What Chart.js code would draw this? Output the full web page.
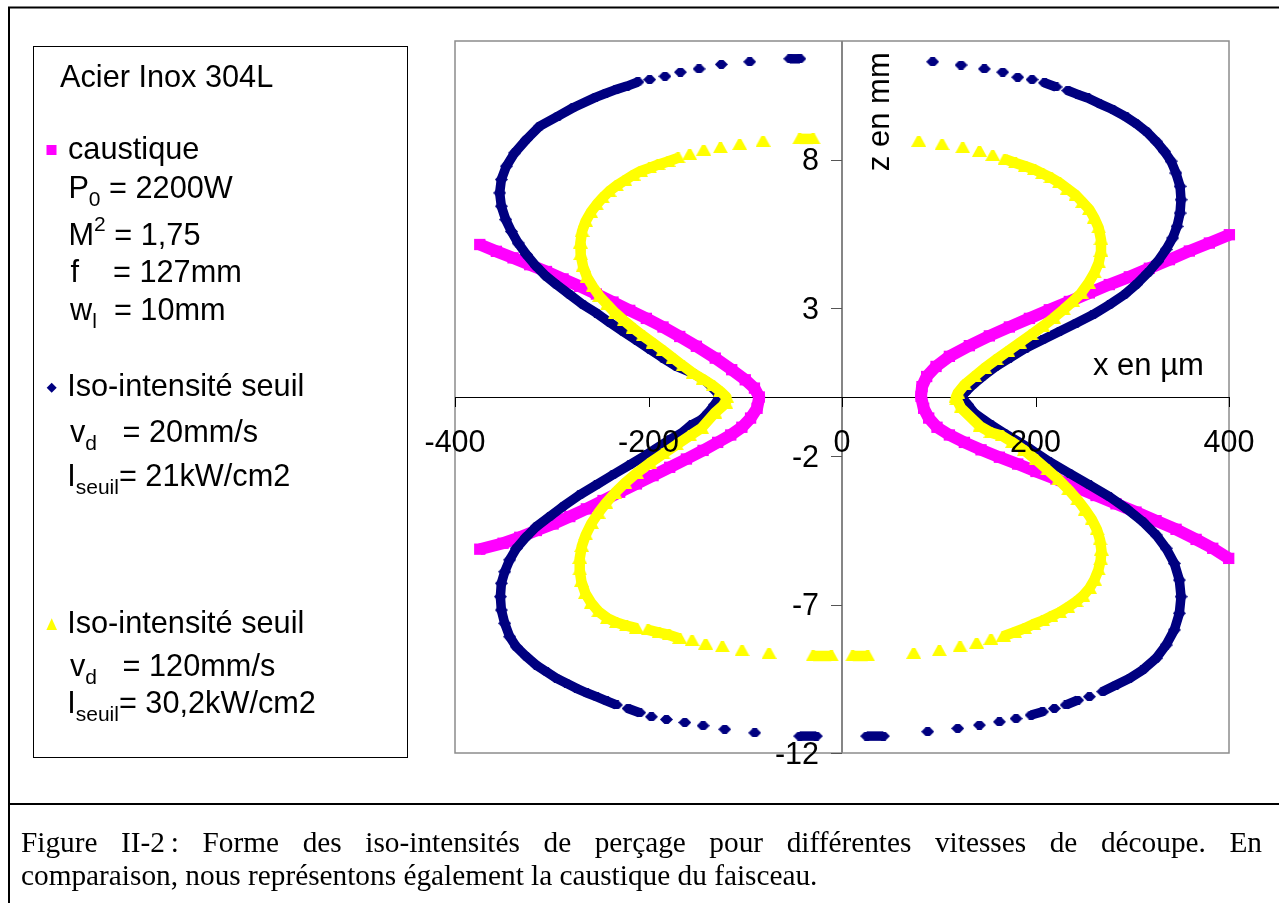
<!DOCTYPE html>
<html lang="fr">
<head>
<meta charset="utf-8">
<title>Figure II-2 - iso-intensités de perçage</title>
<script src="https://cdn.jsdelivr.net/npm/chart.js@4.4.1/dist/chart.umd.min.js"></script>
<style>
    html, body { margin: 0; padding: 0; background: #fff; }
    #page { position: relative; width: 1279px; height: 903px; overflow: hidden; }
    #graphe { position: absolute; left: 0; top: 0; }
    .leg {
        position: absolute;
        font-family: "Liberation Sans", Arial, sans-serif;
        font-size: 30.7px;
        line-height: 30px;
        white-space: pre;
        color: #000;
    }
    .leg sub, .leg sup { font-size: 21px; line-height: 0; vertical-align: baseline; position: relative; }
    .leg sub { top: 8px; }
    .leg sup { top: -14px; }
    .legende {
        position: absolute;
        left: 21px;
        width: 1241px;
        font-family: "Liberation Serif", "Times New Roman", serif;
        font-size: 29.3px;
        line-height: 30px;
        color: #000;
        text-align: justify;
        text-align-last: justify;
    }
    .legende.fin { text-align: left; text-align-last: left; }
</style>
</head>
<body>
<div id="page">
    <canvas id="graphe" width="1279" height="903"></canvas>

    <!-- légende de gauche -->
    <div class="leg" style="left:60px;top:62px">Acier Inox 304L</div>
    <div class="leg" style="left:68px;top:134.4px">caustique</div>
    <div class="leg" style="left:68.4px;top:172.7px">P<sub>0</sub> = 2200W</div>
    <div class="leg" style="left:68.5px;top:220.4px">M<sup>2</sup> = 1,75</div>
    <div class="leg" style="left:70.4px;top:257.1px">f    = 127mm</div>
    <div class="leg" style="left:70px;top:295.4px">w<sub>l</sub>  = 10mm</div>
    <div class="leg" style="left:67.2px;top:371.1px">Iso-intensité seuil</div>
    <div class="leg" style="left:70px;top:417.1px">v<sub>d</sub>   = 20mm/s</div>
    <div class="leg" style="left:67.2px;top:461.1px">I<sub>seuil</sub>= 21kW/cm2</div>
    <div class="leg" style="left:67.2px;top:607.7px">Iso-intensité seuil</div>
    <div class="leg" style="left:70px;top:651.1px">v<sub>d</sub>   = 120mm/s</div>
    <div class="leg" style="left:67.2px;top:687.7px">I<sub>seuil</sub>= 30,2kW/cm2</div>

    <!-- légende de la figure -->
    <div class="legende" style="top:827px">Figure II-2&#8239;: Forme des iso-intensités de perçage pour différentes vitesses de découpe. En</div>
    <div class="legende fin" style="top:860px">comparaison, nous représentons également la caustique du faisceau.</div>
</div>

<script>
// Graduations des axes
const xTicks = [-400, -200, 0, 200, 400];
const zTicks = [-12, -7, -2, 3, 8];

// Caustique du faisceau (x en µm, z en mm), branche gauche puis droite
const caustiqueGaucheX = [-374.4, -357.2, -340.0, -322.8, -305.5, -288.3, -271.1, -253.9, -236.7, -219.4,
    -202.2, -185.0, -167.7, -150.5, -131.0, -114.0, -100.0, -90.5, -85.5, -87.8,
    -94.5, -103.5, -115.0, -128.5, -143.6, -160.8, -178.1, -195.3, -212.5, -229.8,
    -247.0, -264.2, -281.4, -298.6, -315.9, -333.1, -350.3, -374.4];
const caustiqueGaucheZ = [5.14, 4.91, 4.69, 4.46, 4.23, 3.98, 3.73, 3.47, 3.20, 2.92,
    2.65, 2.36, 2.04, 1.71, 1.31, 0.92, 0.58, 0.30, 0.00, -0.38,
    -0.71, -1.02, -1.28, -1.53, -1.80, -2.09, -2.37, -2.65, -2.93, -3.21,
    -3.49, -3.77, -4.03, -4.28, -4.50, -4.73, -4.93, -5.13];
const caustiqueDroiteX = [400.4, 379.7, 359.0, 338.4, 317.7, 297.0, 276.3, 255.7, 235.0, 214.3,
    193.7, 173.0, 152.3, 131.6, 111.0, 97.2, 87.5, 82.7, 81.7, 84.4,
    89.6, 98.2, 111.0, 126.5, 143.7, 162.7, 181.6, 200.5, 221.2, 241.9,
    262.6, 283.2, 303.9, 324.6, 345.3, 366.0, 383.2, 399.7];
const caustiqueDroiteZ = [5.47, 5.19, 4.92, 4.63, 4.34, 4.05, 3.79, 3.51, 3.22, 2.94,
    2.65, 2.36, 2.06, 1.73, 1.37, 1.03, 0.69, 0.35, 0.02, -0.38,
    -0.71, -1.02, -1.28, -1.53, -1.78, -2.03, -2.26, -2.51, -2.77, -3.04,
    -3.32, -3.60, -3.88, -4.17, -4.46, -4.80, -5.10, -5.44];

// Iso-intensité seuil, vd = 20 mm/s
const iso20GaucheX = [-43.5, -54.0, -95.4, -124.7, -147.8, -167.0, -183.0, -198.8, -210.9, -222.2, -233.9, -244.6, -254.9,
    -278.0, -293.5, -312.4, -326.2, -338.3, -346.9, -352.1, -353.8, -352.1, -347.6,
    -341.7, -334.8, -326.2, -315.9, -305.5, -295.2, -281.4, -267.6, -253.8, -240.0,
    -226.3, -212.5, -198.7, -184.9, -171.2, -154.0, -140.2, -131.6, -126.4,
    -131.6, -138.5, -145.4, -155.7, -166.0, -178.1, -202.2, -219.4, -236.7, -253.9,
    -271.1, -288.3, -302.1, -315.9, -326.2, -336.6, -343.5, -348.6, -352.1, -353.1,
    -352.1, -348.6, -343.5, -336.6, -326.2, -315.9, -305.5, -295.2, -284.8, -274.5,
    -264.2, -253.9, -243.5, -233.2, -221.1, -209.1, -197.0, -181.5, -162.5, -143.6,
    -121.2, -90.2, -43.7, -26.5];
const iso20GaucheZ = [11.40, 11.40, 11.30, 11.21, 11.06, 10.95, 10.81, 10.70, 10.62, 10.48, 10.36, 10.23, 10.10,
    9.75, 9.47, 9.13, 8.68, 8.23, 7.78, 7.33, 6.88, 6.43, 5.98,
    5.58, 5.19, 4.80, 4.40, 4.06, 3.79, 3.45, 3.11, 2.83, 2.51,
    2.21, 1.91, 1.61, 1.31, 1.03, 0.80, 0.52, 0.24, 0.02,
    -0.26, -0.54, -0.77, -0.94, -1.22, -1.44, -1.95, -2.29, -2.62, -2.96,
    -3.30, -3.69, -4.03, -4.37, -4.71, -5.10, -5.49, -5.89, -6.28, -6.73,
    -7.18, -7.63, -8.08, -8.42, -8.75, -9.04, -9.26, -9.48, -9.65, -9.82,
    -9.97, -10.10, -10.24, -10.38, -10.50, -10.64, -10.78, -10.87, -10.97, -11.08,
    -11.20, -11.32, -11.43, -11.43];
const iso20DroiteX = [93.7, 123.0, 147.1, 166.1, 181.6, 196.4, 209.2, 221.2, 233.3, 243.6, 254.0,
    266.0, 279.8, 293.6, 303.9, 314.2, 324.6, 333.2, 340.1, 345.2, 349.4,
    350.4, 349.4, 346.3, 341.8, 334.9, 326.3, 316.0, 303.9, 291.9, 276.3,
    259.1, 241.9, 224.7, 207.4, 190.2, 173.0, 159.2, 145.4, 135.1, 126.5, 123.7,
    129.9, 136.8, 154.0, 167.8, 193.7, 214.3, 235.0, 255.7, 276.3, 293.6,
    310.8, 324.6, 335.0, 343.5, 348.7, 350.4, 348.7, 343.5, 335.0, 324.6,
    310.8, 297.0, 283.2, 269.5, 255.7, 243.6, 231.6, 219.5, 207.4, 195.4,
    179.9, 162.7, 142.0, 119.6, 88.6, 42.8, 25.5];
const iso20DroiteZ = [11.30, 11.19, 11.06, 10.95, 10.78, 10.70, 10.59, 10.45, 10.33, 10.20, 10.08,
    9.89, 9.69, 9.44, 9.22, 8.96, 8.62, 8.28, 7.95, 7.55, 7.10,
    6.65, 6.20, 5.75, 5.36, 4.97, 4.57, 4.18, 3.79, 3.45, 3.11,
    2.77, 2.49, 2.21, 1.93, 1.65, 1.31, 1.03, 0.69, 0.41, 0.13, 0.00,
    -0.26, -0.54, -0.94, -1.22, -1.73, -2.18, -2.57, -2.96, -3.36, -3.75,
    -4.20, -4.65, -5.10, -5.61, -6.17, -6.73, -7.29, -7.85, -8.36, -8.81,
    -9.20, -9.49, -9.71, -9.93, -10.10, -10.22, -10.38, -10.50, -10.61, -10.72,
    -10.84, -10.95, -11.06, -11.17, -11.28, -11.43, -11.43];

// Iso-intensité seuil, vd = 120 mm/s
const iso120GaucheX = [-29.9, -43.7, -81.6, -105.7, -125.7, -142.9, -157.4, -169.5, -179.8, -190.1,
    -198.8, -208.3, -216.0, -224.6, -233.2, -240.8, -247.7, -253.9, -259.8, -265.0,
    -268.7, -270.4, -270.1, -267.6, -263.5, -257.3, -250.4, -242.5, -234.2, -225.2,
    -215.9, -205.6, -195.3, -184.9, -174.6, -164.3, -153.9, -143.6, -133.3, -125.7, -119.5,
    -120.2, -131.5, -145.3, -157.4, -171.2, -185.0, -198.8, -212.5, -224.6, -234.9,
    -244.2, -252.1, -259.0, -264.9, -269.0, -271.1, -271.1, -269.4, -265.2, -259.0,
    -251.4, -242.4, -233.1, -222.8, -212.5, -200.4, -189.1, -178.8, -167.8, -155.0,
    -140.9, -123.7, -103.3, -75.4, -29.9, -11.0];
const iso120GaucheZ = [8.70, 8.70, 8.62, 8.51, 8.40, 8.32, 8.17, 8.06, 7.94, 7.83,
    7.72, 7.61, 7.48, 7.30, 7.12, 6.93, 6.71, 6.48, 6.22, 5.92,
    5.58, 5.19, 4.80, 4.40, 4.04, 3.71, 3.39, 3.11, 2.83, 2.57,
    2.32, 2.06, 1.82, 1.57, 1.31, 1.05, 0.80, 0.60, 0.38, 0.19, 0.00,
    -0.21, -0.54, -1.05, -1.31, -1.61, -1.92, -2.23, -2.57, -2.91, -3.24,
    -3.58, -3.92, -4.26, -4.65, -5.04, -5.44, -5.83, -6.22, -6.62, -6.95,
    -7.24, -7.46, -7.60, -7.71, -7.79, -7.85, -7.94, -8.02, -8.14, -8.21,
    -8.33, -8.42, -8.55, -8.64, -8.73, -8.73];
const iso120DroiteX = [79.3, 103.4, 124.8, 142.0, 155.8, 168.5, 179.2, 189.5, 198.8, 207.4,
    216.0, 224.7, 233.3, 241.9, 248.8, 255.7, 260.8, 265.3, 267.7, 267.7,
    265.3, 260.8, 254.6, 247.1, 238.4, 228.8, 218.5, 207.4, 195.4, 183.3,
    171.3, 159.2, 147.1, 136.8, 126.5, 119.6, 117.9,
    118.6, 123.0, 142.7, 154.0, 165.4, 176.4, 188.5, 200.6, 212.6, 224.0,
    234.3, 243.6, 251.5, 258.4, 263.6, 266.7, 268.1, 267.4, 265.0, 260.8,
    255.7, 248.8, 241.9, 233.3, 224.7, 216.0, 207.4, 197.8, 188.5, 178.2,
    166.8, 154.0, 139.2, 122.0, 100.6, 74.1, 26.6, 11.1];
const iso120DroiteZ = [8.62, 8.51, 8.40, 8.28, 8.14, 8.02, 7.89, 7.78, 7.67, 7.53,
    7.39, 7.22, 7.01, 6.80, 6.56, 6.32, 6.03, 5.70, 5.30, 4.91,
    4.52, 4.18, 3.84, 3.50, 3.22, 2.94, 2.66, 2.38, 2.10, 1.82,
    1.54, 1.26, 0.97, 0.69, 0.41, 0.13, 0.00,
    -0.09, -0.37, -0.99, -1.20, -1.31, -1.53, -1.80, -2.12, -2.46, -2.79,
    -3.13, -3.47, -3.81, -4.14, -4.48, -4.82, -5.16, -5.49, -5.83, -6.17,
    -6.45, -6.71, -6.90, -7.09, -7.26, -7.40, -7.54, -7.66, -7.80, -7.93,
    -8.06, -8.17, -8.30, -8.42, -8.55, -8.64, -8.73, -8.73];

const POLICE = '"Liberation Sans", Arial, sans-serif';

// Symboles dessinés une fois (losange élargi et triangle écrêté, comme à l'écran Excel)
function symbole(l, h, couleur, sommets) {
    const c = document.createElement('canvas');
    c.width = l;
    c.height = h;
    const g = c.getContext('2d');
    g.fillStyle = couleur;
    g.beginPath();
    sommets.forEach(([sx, sy], i) => (i ? g.lineTo(sx, sy) : g.moveTo(sx, sy)));
    g.closePath();
    g.fill();
    return c;
}
const losange = symbole(13, 9, '#000080', [[0, 4.5], [4.5, 0], [8.5, 0], [13, 4.5], [8.5, 9], [4.5, 9]]);
const triangle = symbole(15, 11, '#ffff00', [[6, 0], [9, 0], [15, 11], [0, 11]]);

// Styles des trois séries (couleurs Excel)
const styleCaustique = { couleur: '#ff00ff', symbole: 'rect', rayon: 8, trait: 12, ordre: 3 };
const style20 = { couleur: '#000080', symbole: losange, rayon: 6, trait: 9.5, ordre: 2 };
const style120 = { couleur: '#ffff00', symbole: triangle, rayon: 7, trait: 10.5, ordre: 1 };

function points(xs, zs) {
    return xs.map((x, i) => ({ x: x, y: zs[i] }));
}

// Aux extrémités les points sont espacés : on ne relie pas les symboles isolés
function couleurSegment(couleur) {
    return function (ctx) {
        const dz = Math.abs(ctx.p1.parsed.y - ctx.p0.parsed.y);
        const dx = Math.abs(ctx.p1.parsed.x - ctx.p0.parsed.x);
        if (dz > 0 && dz < 0.17 && dx > 12) return 'rgba(0,0,0,0)';
        return couleur;
    };
}

function jeu(label, xs, zs, s) {
    return {
        label: label,
        data: points(xs, zs),
        showLine: true,
        tension: 0,
        clip: false,
        order: s.ordre,
        borderColor: s.couleur,
        backgroundColor: s.couleur,
        borderWidth: s.trait,
        borderJoinStyle: 'round',
        pointStyle: s.symbole,
        pointRadius: s.rayon,
        pointHoverRadius: s.rayon,
        pointBorderWidth: 0,
        pointBackgroundColor: s.couleur,
        segment: { borderColor: couleurSegment(s.couleur) }
    };
}

// Cadre, axes croisés en (0,0), graduations et titres
const decor = {
    id: 'decor',
    beforeDraw(chart) {
        const ctx = chart.ctx;
        ctx.save();
        ctx.fillStyle = '#fff';
        ctx.fillRect(0, 0, chart.width, chart.height);
        // cadre de la figure
        ctx.strokeStyle = '#000';
        ctx.lineWidth = 2;
        ctx.beginPath();
        ctx.moveTo(9, 903); ctx.lineTo(9, 7.5); ctx.lineTo(1279, 7.5);
        ctx.moveTo(8, 804); ctx.lineTo(1279, 804);
        ctx.stroke();
        // cadre de la légende
        ctx.lineWidth = 1;
        ctx.strokeRect(33.5, 46.5, 374, 711);
        // symboles de la légende
        ctx.fillStyle = styleCaustique.couleur;
        ctx.fillRect(46.5, 145, 10, 10);
        ctx.fillStyle = style20.couleur;
        ctx.beginPath();
        ctx.moveTo(46.7, 387.7); ctx.lineTo(51.7, 382.7); ctx.lineTo(56.7, 387.7); ctx.lineTo(51.7, 392.7);
        ctx.closePath(); ctx.fill();
        ctx.fillStyle = style120.couleur;
        ctx.beginPath();
        ctx.moveTo(51.7, 618.3); ctx.lineTo(57, 630); ctx.lineTo(46.4, 630);
        ctx.closePath(); ctx.fill();
        ctx.restore();
    },
    beforeDatasetsDraw(chart) {
        const { ctx, chartArea: a, scales: { x, y } } = chart;
        const x0 = Math.round(x.getPixelForValue(0));
        const y0 = Math.round(y.getPixelForValue(0));
        ctx.save();
        // bordure de la zone de tracé
        ctx.strokeStyle = '#8c8c8c';
        ctx.lineWidth = 1.5;
        ctx.strokeRect(a.left, a.top, a.right - a.left, a.bottom - a.top);
        // axe z (gris)
        ctx.strokeStyle = '#868686';
        ctx.lineWidth = 2;
        ctx.beginPath();
        ctx.moveTo(x0, a.top); ctx.lineTo(x0, a.bottom);
        ctx.stroke();
        ctx.lineWidth = 1;
        ctx.strokeStyle = '#555';
        ctx.beginPath();
        zTicks.forEach(v => {
            const py = Math.round(y.getPixelForValue(v)) + 0.5;
            ctx.moveTo(x0 - 11, py); ctx.lineTo(x0, py);
        });
        ctx.stroke();
        // axe x (noir)
        ctx.strokeStyle = '#000';
        ctx.beginPath();
        ctx.moveTo(a.left, y0 + 0.5); ctx.lineTo(a.right, y0 + 0.5);
        xTicks.forEach(v => {
            const px = Math.round(x.getPixelForValue(v)) + 0.5;
            ctx.moveTo(px, y0); ctx.lineTo(px, y0 + 10);
        });
        ctx.stroke();
        ctx.restore();
    },
    afterDatasetsDraw(chart) {
        const { ctx, scales: { x, y } } = chart;
        const x0 = x.getPixelForValue(0);
        const y0 = y.getPixelForValue(0);
        ctx.save();
        ctx.fillStyle = '#000';
        ctx.font = '30.5px ' + POLICE;
        ctx.textBaseline = 'alphabetic';
        ctx.textAlign = 'center';
        xTicks.forEach(v => ctx.fillText(String(v), x.getPixelForValue(v), y0 + 55));
        ctx.textAlign = 'right';
        zTicks.forEach(v => ctx.fillText(String(v), x0 - 23, y.getPixelForValue(v) + 10.5));
        // titres des axes
        ctx.font = '31px ' + POLICE;
        ctx.textAlign = 'left';
        ctx.fillText('x en µm', 1093, 375);
        ctx.translate(888.5, 111.7);
        ctx.rotate(-Math.PI / 2);
        ctx.textAlign = 'center';
        ctx.fillText('z en mm', 0, 0);
        ctx.restore();
    }
};

new Chart(document.getElementById('graphe'), {
    type: 'scatter',
    data: {
        datasets: [
            jeu('caustique gauche', caustiqueGaucheX, caustiqueGaucheZ, styleCaustique),
            jeu('caustique droite', caustiqueDroiteX, caustiqueDroiteZ, styleCaustique),
            jeu('iso 20 mm/s gauche', iso20GaucheX, iso20GaucheZ, style20),
            jeu('iso 20 mm/s droite', iso20DroiteX, iso20DroiteZ, style20),
            jeu('iso 120 mm/s gauche', iso120GaucheX, iso120GaucheZ, style120),
            jeu('iso 120 mm/s droite', iso120DroiteX, iso120DroiteZ, style120)
        ]
    },
    options: {
        responsive: false,
        animation: false,
        devicePixelRatio: 1,
        events: [],
        layout: { padding: { left: 455, top: 41, right: 50, bottom: 150 } },
        scales: {
            x: { type: 'linear', min: -400, max: 400, display: false },
            y: { type: 'linear', min: -12, max: 12, display: false }
        },
        plugins: {
            legend: { display: false },
            tooltip: { enabled: false }
        }
    },
    plugins: [decor]
});
</script>
</body>
</html>
